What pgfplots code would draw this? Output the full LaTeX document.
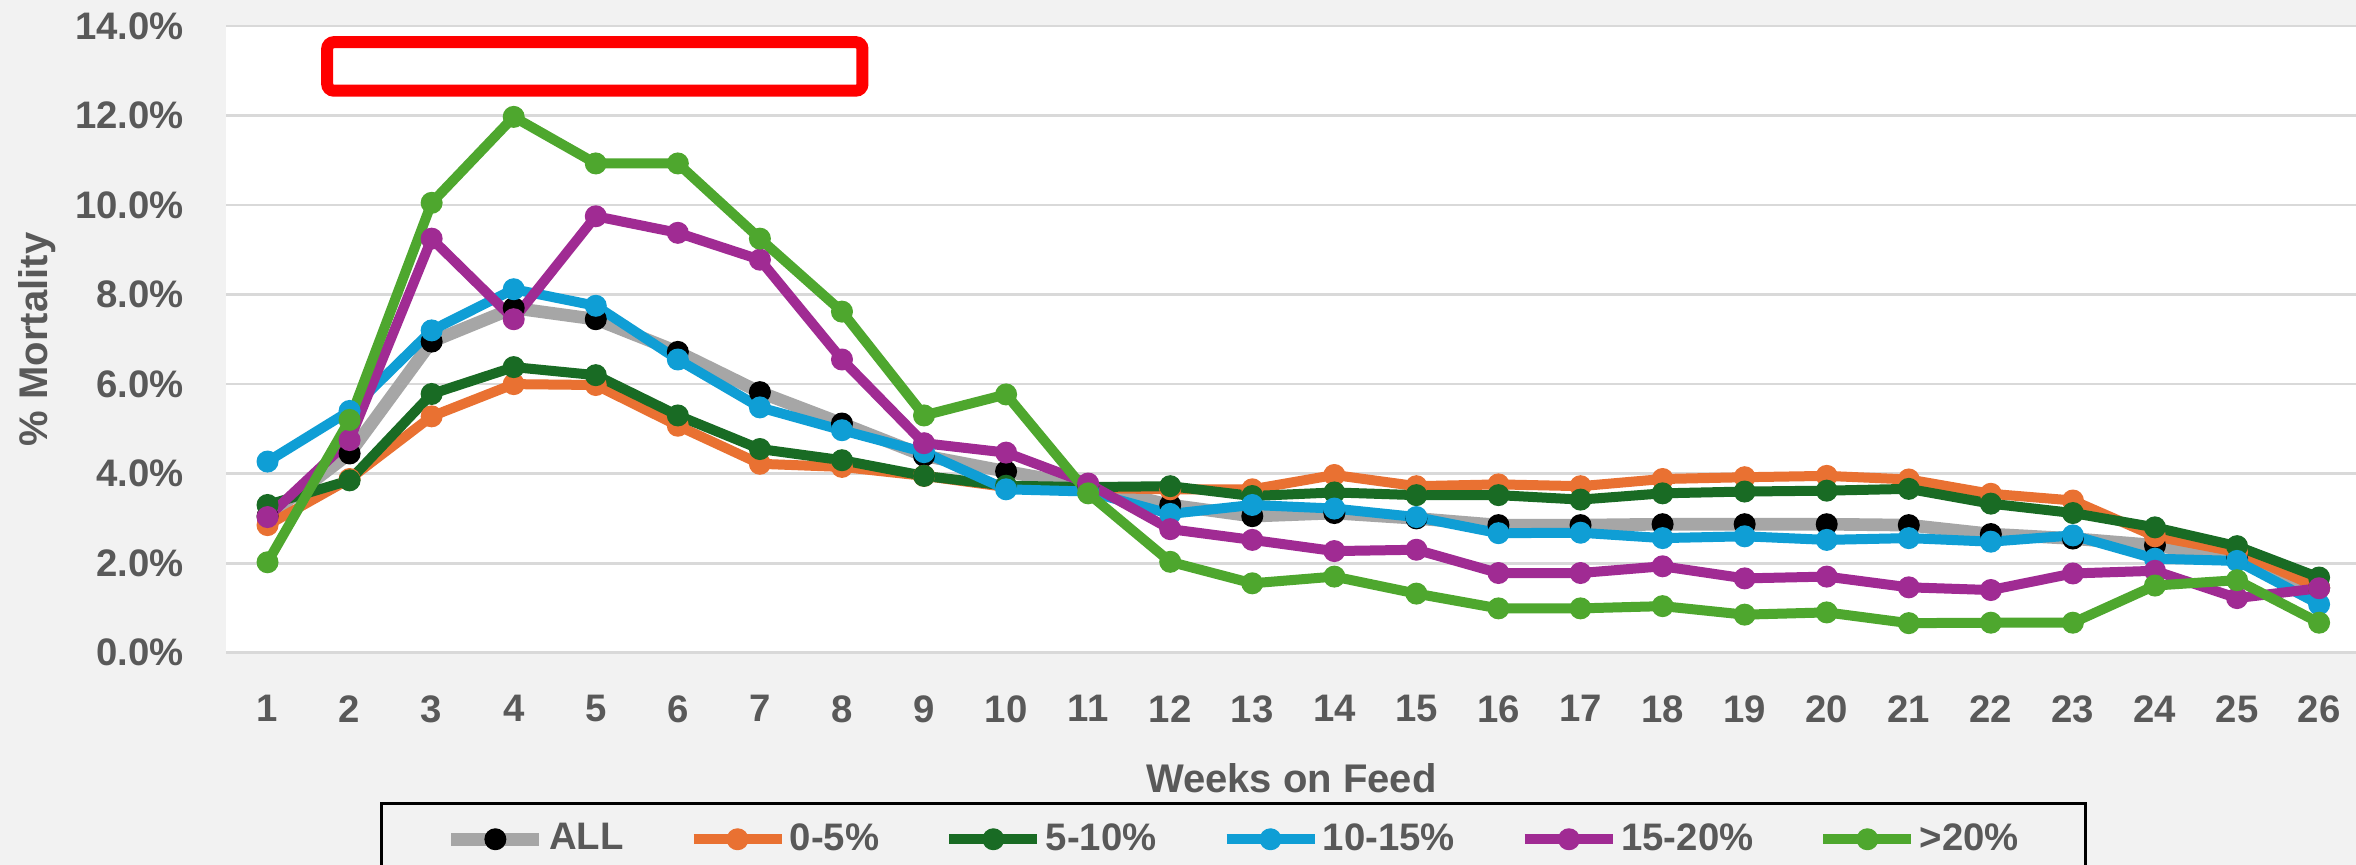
\documentclass[border=0pt]{standalone}
\usepackage{fontspec}
\setmainfont{Liberation Sans}
\usepackage{pgfplots}
\pgfplotsset{compat=1.18}
\definecolor{bg}{HTML}{F2F2F2}
\definecolor{tg}{HTML}{595959}
\definecolor{gridc}{HTML}{D9D9D9}
\definecolor{allgray}{HTML}{A6A6A6}
\definecolor{cA}{HTML}{E97132}
\definecolor{cB}{HTML}{196B24}
\definecolor{cC}{HTML}{0F9ED5}
\definecolor{cD}{HTML}{A02B93}
\definecolor{cE}{HTML}{4EA72E}
\begin{document}
\begin{tikzpicture}
\path[use as bounding box, fill=bg] (0,0) rectangle (706.8pt,259.5pt);
\clip (0,0) rectangle (706.8pt,259.5pt);
\begin{axis}[
  at={(67.95pt,63.69pt)}, anchor=south west,
  scale only axis, width=638.85pt, height=188.0pt,
  xmin=0.5, xmax=26.45, ymin=0, ymax=14,
  axis background/.style={fill=white},
  axis line style={draw=none},
  major tick length=0pt,
  xtick={1,...,26}, ytick={0,2,4,6,8,10,12,14},
  yticklabels={0.0\%,2.0\%,4.0\%,6.0\%,8.0\%,10.0\%,12.0\%,14.0\%},
  ymajorgrids, grid style={draw=gridc, line width=0.8pt},
  /pgf/number format/assume math mode=true,
  ticklabel style={font=\fontsize{11.5}{13}\selectfont\bfseries, text=tg, inner sep=0pt},
  yticklabel style={anchor=east, xshift=-12.6pt},
  xticklabel style={anchor=north, yshift=-12.6pt},
  xlabel={Weeks on Feed}, ylabel={\% Mortality},
  label style={font=\fontsize{12}{14}\selectfont\bfseries, text=tg},
  xlabel style={at={(axis description cs:0.5,-0.2)}, anchor=center},
  ylabel style={at={(axis description cs:-0.0888,0.5)}, anchor=center},
  legend columns=6,
  legend cell align=left,
  legend style={at={(axis description cs:0.0721,-0.2378)}, anchor=north west,
    draw=black, line width=1pt, fill=bg,
    font=\fontsize{11.5}{13}\selectfont\bfseries, text=tg,
    inner xsep=19pt, inner ysep=4.5pt,
    nodes={inner xsep=1pt, inner ysep=1.5pt},
    /tikz/every even column/.append style={column sep=18.5pt}},
  legend image code/.code={\draw[#1, mark repeat=2, mark phase=2] plot coordinates {(0pt,0pt) (13.2pt,0pt) (26.4pt,0pt)};},
  every axis plot/.append style={line width=3pt, line join=round, mark=*, mark size=3.1pt},
]
\addplot[allgray, line width=3.8pt, mark options={draw=black, fill=black, line width=0.4pt}] coordinates {
(1,3.05) (2,4.45) (3,6.95) (4,7.7) (5,7.45) (6,6.72) (7,5.82) (8,5.12) (9,4.4) (10,4.05)
(11,3.72) (12,3.3) (13,3.05) (14,3.12) (15,3.0) (16,2.85) (17,2.85) (18,2.87) (19,2.87) (20,2.87)
(21,2.85) (22,2.65) (23,2.55) (24,2.4) (25,2.1) (26,1.45)};
\addlegendentry{ALL}
\addplot[cA, mark options={draw=cA, fill=cA, line width=0.4pt}] coordinates {
(1,2.85) (2,3.88) (3,5.28) (4,6.0) (5,5.98) (6,5.07) (7,4.22) (8,4.15) (9,3.95) (10,3.7)
(11,3.68) (12,3.65) (13,3.65) (14,3.97) (15,3.72) (16,3.76) (17,3.72) (18,3.88) (19,3.92) (20,3.95)
(21,3.87) (22,3.55) (23,3.4) (24,2.6) (25,2.25) (26,1.45)};
\addlegendentry{0-5\%}
\addplot[cB, mark options={draw=cB, fill=cB, line width=0.4pt}] coordinates {
(1,3.3) (2,3.85) (3,5.78) (4,6.38) (5,6.2) (6,5.3) (7,4.55) (8,4.3) (9,3.95) (10,3.73)
(11,3.7) (12,3.72) (13,3.5) (14,3.58) (15,3.52) (16,3.52) (17,3.42) (18,3.56) (19,3.6) (20,3.62)
(21,3.66) (22,3.33) (23,3.12) (24,2.8) (25,2.38) (26,1.68)};
\addlegendentry{5-10\%}
\addplot[cC, mark options={draw=cC, fill=cC, line width=0.4pt}] coordinates {
(1,4.27) (2,5.4) (3,7.2) (4,8.12) (5,7.75) (6,6.55) (7,5.48) (8,4.97) (9,4.48) (10,3.65)
(11,3.6) (12,3.1) (13,3.3) (14,3.22) (15,3.03) (16,2.67) (17,2.68) (18,2.56) (19,2.6) (20,2.52)
(21,2.56) (22,2.48) (23,2.62) (24,2.1) (25,2.05) (26,1.08)};
\addlegendentry{10-15\%}
\addplot[cD, mark options={draw=cD, fill=cD, line width=0.4pt}] coordinates {
(1,3.03) (2,4.75) (3,9.25) (4,7.45) (5,9.75) (6,9.38) (7,8.78) (8,6.55) (9,4.68) (10,4.47)
(11,3.78) (12,2.76) (13,2.52) (14,2.27) (15,2.3) (16,1.78) (17,1.78) (18,1.93) (19,1.66) (20,1.7)
(21,1.46) (22,1.4) (23,1.77) (24,1.83) (25,1.22) (26,1.44)};
\addlegendentry{15-20\%}
\addplot[cE, mark options={draw=cE, fill=cE, line width=0.4pt}] coordinates {
(1,2.02) (2,5.2) (3,10.05) (4,11.97) (5,10.93) (6,10.93) (7,9.25) (8,7.62) (9,5.3) (10,5.77)
(11,3.56) (12,2.03) (13,1.55) (14,1.7) (15,1.32) (16,0.99) (17,0.99) (18,1.04) (19,0.85) (20,0.9)
(21,0.66) (22,0.67) (23,0.67) (24,1.5) (25,1.62) (26,0.67)};
\addlegendentry{>20\%}
\draw[red, line width=3.6pt, rounded corners=2pt] (axis cs:1.727,13.639) rectangle (axis cs:8.25,12.556);
\end{axis}
\end{tikzpicture}
\end{document}
